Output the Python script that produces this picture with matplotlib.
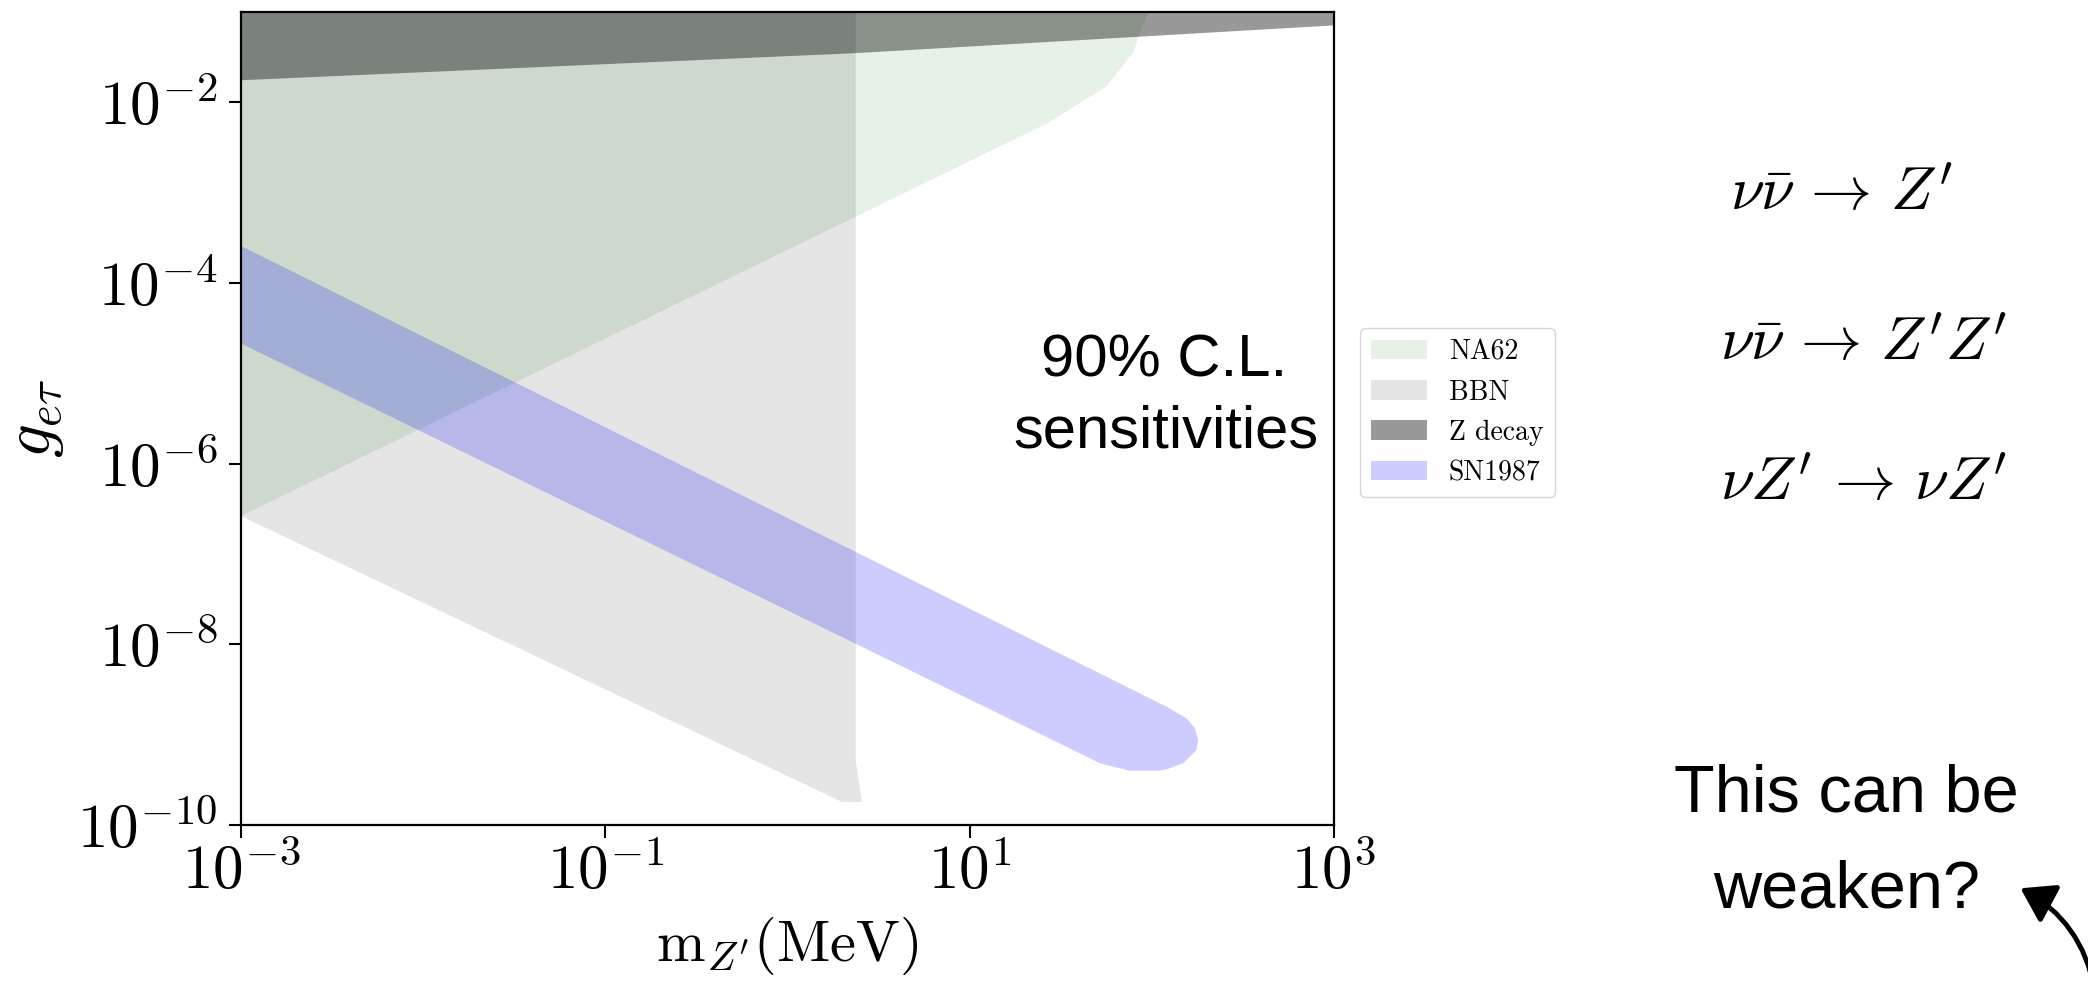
import numpy as np
import matplotlib.pyplot as plt
from matplotlib.patches import FancyArrowPatch
from matplotlib.ticker import FuncFormatter

plt.rcParams['mathtext.fontset'] = 'cm'

# NA62 region (m_Z' in MeV, g_etau)
na62_m = [1e-3, 26.9, 56.6, 79.4, 84.9, 95.5, 1e-3]
na62_g = [2.63e-7, 5.9e-3, 1.51e-2, 3.63e-2, 5.37e-2, 1e-1, 1e-1]

# BBN region
bbn_m = [1e-3, 2.37, 2.37, 2.56, 1.99, 1e-3]
bbn_g = [1e-1, 1e-1, 5.2e-10, 1.8e-10, 1.8e-10, 2.63e-7]

# Z decay region (lower edge, up to the top of the plot)
zdec_m = [1e-3, 2.35, 85, 1e3]
zdec_lo = [1.78e-2, 3.55e-2, 5.4e-2, 7.2e-2]
zdec_hi = [1e-1, 1e-1, 1e-1, 1e-1]

# SN1987 band (upper edge, rounded end, lower edge)
sn_m = [1e-3, 120.5, 154.9, 172.2, 179.6, 175.8, 148.6, 120.5, 110.7, 75.7,
        61.4, 51.9, 38.6, 1e-3]
sn_g = [2.57e-4, 2.04e-9, 1.52e-9, 1.18e-9, 8.73e-10, 6.77e-10, 4.82e-10,
        4.14e-10, 3.99e-10, 3.99e-10, 4.43e-10, 4.82e-10, 6.49e-10, 2.14e-5]

x_ticks = [1e-3, 1e-1, 1e1, 1e3]
y_ticks = [1e-10, 1e-8, 1e-6, 1e-4, 1e-2]

W, H = 2088, 984
fig = plt.figure(figsize=(W / 100, H / 100), dpi=100)
ax = fig.add_axes([241 / W, 1 - 825 / H, (1334 - 241) / W, (825 - 12) / H])

ax.fill(na62_m, na62_g, color='g', alpha=0.1, lw=0, label='NA62')
ax.fill(bbn_m, bbn_g, color='k', alpha=0.1, lw=0, label='BBN')
ax.fill_between(zdec_m, zdec_lo, zdec_hi, color='k', alpha=0.4, lw=0, label='Z decay')
ax.fill(sn_m, sn_g, color='b', alpha=0.2, lw=0, label='SN1987')

ax.set_xscale('log')
ax.set_yscale('log')
ax.set_xlim(1e-3, 1e3)
ax.set_ylim(1e-10, 1e-1)
ax.set_xticks(x_ticks)
ax.set_yticks(y_ticks)
ax.minorticks_off()
pow10 = FuncFormatter(lambda v, pos: r'$10^{%d}$' % round(np.log10(v)))
ax.xaxis.set_major_formatter(pow10)
ax.yaxis.set_major_formatter(pow10)
ax.tick_params(axis='both', labelsize=44, length=9, width=1.5)
ax.tick_params(axis='x', pad=4)
ax.tick_params(axis='y', pad=8)
for s in ax.spines.values():
    s.set_linewidth(1.6)

ax.set_xlabel(r'$\mathrm{m}_{Z^{\prime}}(\mathrm{MeV})$', fontsize=42, labelpad=9)
ax.set_ylabel(r'$g_{e\tau}$', fontsize=48)
ax.yaxis.set_label_coords(-0.16, 0.5)

ax.legend(loc='upper left', bbox_to_anchor=(1360 / W, 1 - 328 / H),
          bbox_transform=fig.transFigure, borderaxespad=0,
          prop={'family': 'cmr10', 'size': 20})

sans = 'Liberation Sans'
fig.text(1164 / W, 1 - 377 / H, '90% C.L.', ha='center', va='baseline',
         fontsize=43, family=sans)
fig.text(1166 / W, 1 - 448 / H, 'sensitivities', ha='center', va='baseline',
         fontsize=43, family=sans)

# processes on the right
fig.text(1730 / W, 1 - 210 / H, r'$\nu\bar{\nu}\,\rightarrow\,Z^{\prime}$',
         ha='left', va='baseline', fontsize=44)
fig.text(1720 / W, 1 - 360 / H, r'$\nu\bar{\nu}\,\rightarrow\,Z^{\prime}Z^{\prime}$',
         ha='left', va='baseline', fontsize=44)
fig.text(1720 / W, 1 - 500 / H, r'$\nu Z^{\prime}\,\rightarrow\,\nu Z^{\prime}$',
         ha='left', va='baseline', fontsize=44)

fig.text(1846 / W, 1 - 812 / H, 'This can be', ha='center', va='baseline',
         fontsize=48, family=sans)
fig.text(1847 / W, 1 - 908 / H, 'weaken?', ha='center', va='baseline',
         fontsize=48, family=sans)

arrow = FancyArrowPatch((2095 / W, 1 - 992 / H), (2018 / W, 1 - 887 / H),
                        transform=fig.transFigure,
                        arrowstyle='-|>,head_length=0.8,head_width=0.52',
                        mutation_scale=25, lw=3.5, color='k',
                        connectionstyle='arc3,rad=0.25')
fig.add_artist(arrow)

fig.savefig('out.png', dpi=100)
